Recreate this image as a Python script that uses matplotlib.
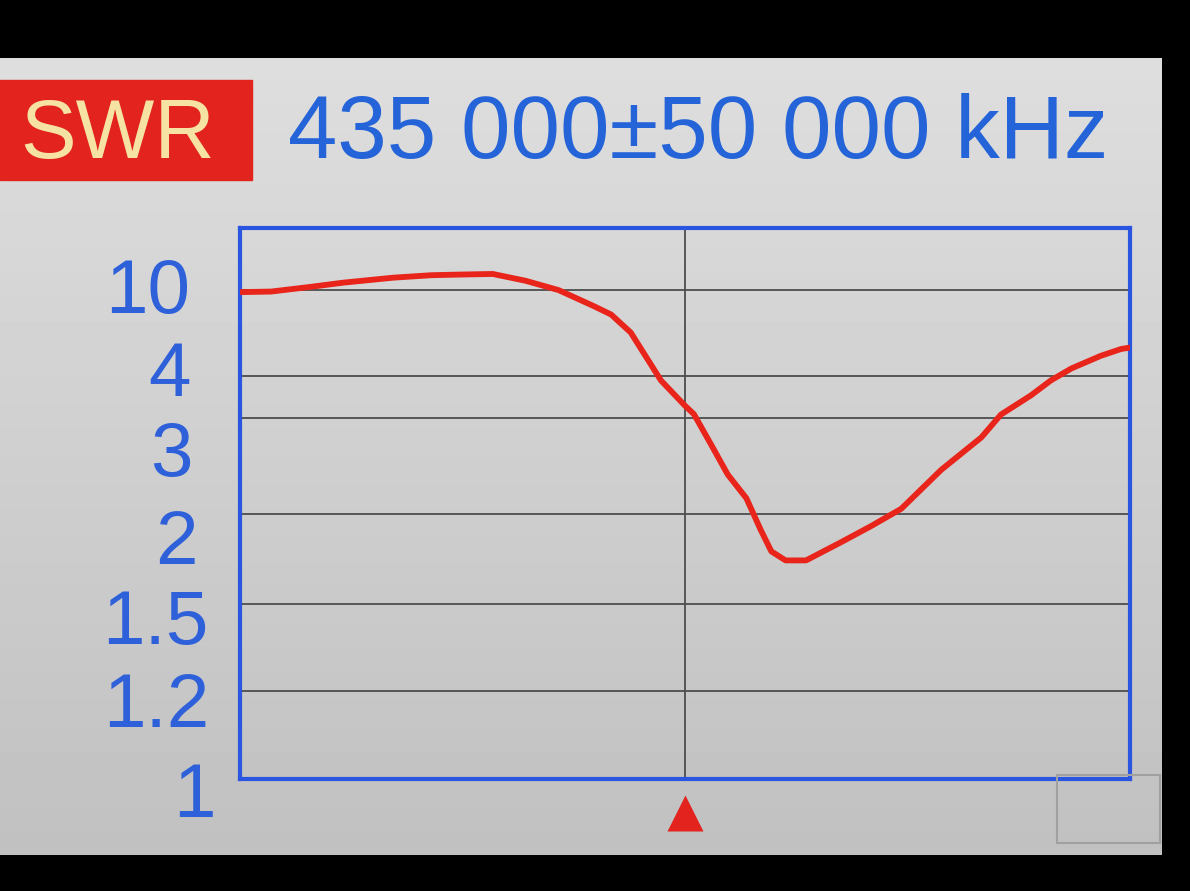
import numpy as np
import matplotlib.pyplot as plt
from matplotlib.patches import Rectangle
from matplotlib import transforms

# SWR sweep (435 MHz +/- 50 MHz)
freq_mhz = [385.0, 388.5, 392.8, 396.6, 402.2, 406.5, 409.6, 413.4, 417.1, 420.8,
            424.7, 426.7, 428.9, 432.3, 435.0, 436.0, 437.9, 439.8, 441.9, 443.5,
            444.7, 446.3, 448.6, 452.5, 455.9, 459.3, 463.8, 468.3, 470.5, 473.9,
            476.1, 478.4, 481.7, 484.0, 485.0]
swr = [9.86, 9.9, 10.5, 11.2, 12.0, 12.4, 12.5, 12.6, 11.5, 10.0,
       8.9, 8.3, 7.05, 3.9, 3.3, 3.1, 2.73, 2.41, 2.16, 1.91,
       1.79, 1.74, 1.74, 1.84, 1.93, 2.05, 2.46, 2.80, 3.09, 3.55,
       3.9, 4.54, 5.42, 5.9, 6.0]

tick_vals = [1, 1.2, 1.5, 2, 3, 4, 10]
tick_text = ['1', '1.2', '1.5', '2', '3', '4', '10']
grid_vals = [1.2, 1.5, 2, 3, 4, 10]

# the screen's SWR axis is not linear: value -> height on screen
scale_vals = [1, 1.2, 1.5, 2, 3, 4, 10, 20]
scale_pos = [0, 88, 175, 265, 360, 402, 488, 550]

W, H = 1190, 891
fig = plt.figure(figsize=(W / 100, H / 100), dpi=100, facecolor='black')

# screen background (light grey, a bit darker towards the bottom)
bg = fig.add_axes([0, 1 - 855 / H, 1162 / W, (855 - 58) / H], zorder=-1)
grad = np.linspace(0.87, 0.755, 256).reshape(-1, 1)
bg.imshow(grad, cmap='gray', vmin=0, vmax=1, aspect='auto')
bg.axis('off')

# red "SWR" box + title
fig.patches.append(Rectangle((0, 1 - 180 / H), 252 / W, 100 / H,
                             transform=fig.transFigure, color='#e2231e', zorder=1))
fig.text(20 / W, 1 - 158 / H, 'SWR', fontsize=60, color='#f6e3a4',
         family='Liberation Sans', va='baseline', zorder=3)
fig.text(288 / W, 1 - 158 / H, '435 000±50 000 kHz', fontsize=64, color='#2464d8',
         family='Liberation Sans', va='baseline', zorder=3)

# faint bezel frame bottom right
fig.patches.append(Rectangle((1057 / W, 1 - 843 / H), 103 / W, 68 / H,
                             transform=fig.transFigure, fill=False,
                             ec='#a0a0a0', lw=1.5, zorder=1))

ax = fig.add_axes([240 / W, 1 - 779 / H, 890 / W, 551 / H])
ax.set_facecolor('none')
ax.set_yscale('function', functions=(lambda v: np.interp(v, scale_vals, scale_pos),
                                     lambda p: np.interp(p, scale_pos, scale_vals)))
ax.set_xlim(385, 485)
ax.set_ylim(1, 20)

for g in grid_vals:
    ax.axhline(g, color='#4d4d4d', lw=1.3, zorder=1)
ax.axvline(435, color='#4d4d4d', lw=1.3, zorder=1)

ax.plot(freq_mhz, swr, color='#e8241b', lw=4.2, solid_capstyle='round',
        solid_joinstyle='round', zorder=3)

for s in ax.spines.values():
    s.set_color('#2a55e0')
    s.set_linewidth(3)
ax.set_xticks([])
ax.set_yticks([])

# blue SWR labels sit a bit off their lines on the screen (px offsets)
dx = [-24, -31, -31, -42, -47, -49, -50]
dy = [38, 36, 40, 50, 58, 20, 23]
ytr = transforms.blended_transform_factory(ax.transAxes, ax.transData)
for v, t, ox, oy in zip(tick_vals, tick_text, dx, dy):
    ax.annotate(t, (0, v), xycoords=ytr, xytext=(ox * 0.72, -oy * 0.72),
                textcoords='offset points', ha='right', va='baseline',
                fontsize=55, color='#2e60da', family='Liberation Sans',
                annotation_clip=False)

# centre frequency marker under the plot
mtr = transforms.blended_transform_factory(ax.transData, ax.transAxes)
ax.plot([435], [-0.062], marker='^', ms=26, color='#e2231e', mec='none',
        transform=mtr, clip_on=False)

fig.savefig('out.png', dpi=100, facecolor=fig.get_facecolor())
